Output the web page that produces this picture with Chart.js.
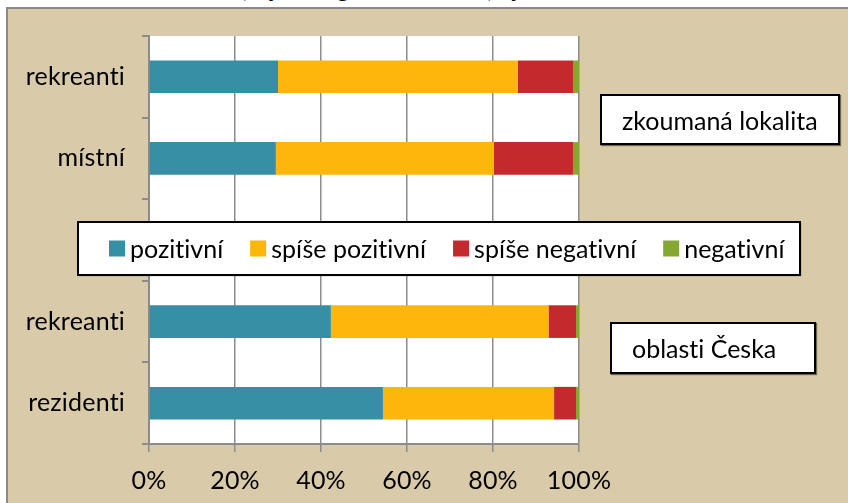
<!DOCTYPE html>
<html>
<head>
<meta charset="utf-8">
<script src="https://cdn.jsdelivr.net/npm/chart.js@4.4.1/dist/chart.umd.min.js"></script>
<style>
  html, body { margin:0; padding:0; background:#fff; width:848px; height:503px; overflow:hidden; }
  #title { position:absolute; left:238px; top:-24px; font-family:"Liberation Serif", serif; font-size:24px; line-height:24px; color:#000; white-space:nowrap; }
  #frame { position:absolute; left:6px; top:7px; width:900px; height:600px; background:#D9CAA9; border-left:2px solid #8a8a8a; border-top:2px solid #8a8a8a; }
  #wrap { position:absolute; left:0; top:0; width:848px; height:503px; }
  .note { position:absolute; background:#fff; border:2px solid #000; box-shadow:1px 1px 1px rgba(0,0,0,0.5); box-sizing:border-box;
          font-family:Lato, "Open Sans", sans-serif; font-size:25px; color:#000; display:flex; align-items:center; padding-left:20px; white-space:nowrap;
          font-variant-ligatures:none; font-feature-settings:"liga" 0, "dlig" 0; }
</style>
</head>
<body>
<div id="title">(objekt, regionální úroveň) aj.</div>
<div id="frame"></div>
<div id="wrap"><canvas id="c" width="848" height="503"></canvas></div>
<div class="note" style="left:600px; top:94px; width:240px; height:51px;">zkoumaná lokalita</div>
<div class="note" style="left:610px; top:322px; width:206px; height:52px;">oblasti Česka</div>
<script>
// ---- data ----
const categories = ['rekreanti', 'místní', '', 'rekreanti', 'rezidenti'];
const seriesNames = ['pozitivní', 'spíše pozitivní', 'spíše negativní', 'negativní'];
const pozitivni      = [30.0, 29.5, null, 42.3, 54.4];
const spisePozitivni = [55.8, 50.7, null, 50.6, 39.8];
const spiseNegativni = [12.8, 18.4, null,  6.4,  5.1];
const negativni      = [ 1.4,  1.4, null,  0.7,  0.7];
const xTickValues = [0, 20, 40, 60, 80, 100];
const xTickLabels = ['0%', '20%', '40%', '60%', '80%', '100%'];

const seriesColors = ['#378FA6', '#FDB60B', '#C3292D', '#84A832'];
const FONT = 'Lato, "Open Sans", sans-serif';

const plotBg = {
  id: 'plotBg',
  beforeDraw(chart) {
    const a = chart.chartArea, ctx = chart.ctx;
    ctx.letterSpacing = '0.2px';
    ctx.save(); ctx.fillStyle = '#fff';
    ctx.fillRect(a.left, a.top, a.right - a.left, a.bottom - a.top);
    ctx.restore();
  }
};

const boxLegend = {
  id: 'boxLegend',
  afterDraw(chart, args, opts) {
    const ctx = chart.ctx;
    const b = opts.box;
    ctx.save();
    ctx.shadowColor = 'rgba(0,0,0,0.5)'; ctx.shadowOffsetX = 1; ctx.shadowOffsetY = 1; ctx.shadowBlur = 1;
    ctx.fillStyle = '#fff';
    ctx.fillRect(b.x, b.y, b.w, b.h);
    ctx.shadowColor = 'transparent';
    ctx.strokeStyle = '#000'; ctx.lineWidth = 2;
    ctx.strokeRect(b.x, b.y, b.w, b.h);
    ctx.font = opts.fontSize + 'px ' + FONT;
    ctx.letterSpacing = '0.01px';
    ctx.textBaseline = 'middle'; ctx.textAlign = 'left';
    let x = opts.startX;
    const cy = b.y + b.h / 2;
    chart.data.datasets.forEach(ds => {
      ctx.fillStyle = ds.backgroundColor;
      ctx.fillRect(x, cy - 8, 16, 16);
      ctx.fillStyle = '#000';
      ctx.fillText(ds.label, x + 21, cy + 1);
      x += 21 + ctx.measureText(ds.label).width + opts.gap;
    });
    ctx.restore();
  }
};

function build() {
  const dataSeries = [pozitivni, spisePozitivni, spiseNegativni, negativni];
  new Chart(document.getElementById('c'), {
    type: 'bar',
    data: {
      labels: categories,
      datasets: seriesNames.map((n, i) => ({
        label: n, data: dataSeries[i], backgroundColor: seriesColors[i],
        borderWidth: 0, barPercentage: 0.4, categoryPercentage: 1.0
      }))
    },
    options: {
      indexAxis: 'y',
      responsive: false,
      animation: false,
      layout: { padding: { top: 36, right: 269, bottom: 0, left: 0 } },
      plugins: {
        legend: { display: false },
        tooltip: { enabled: false },
        boxLegend: { box: { x: 78, y: 222, w: 722, h: 53 }, startX: 109, gap: 27, fontSize: 25 }
      },
      scales: {
        x: {
          stacked: true, min: 0, max: 100,
          afterBuildTicks: s => { s.ticks = xTickValues.map(v => ({ value: v })); },
          ticks: { callback: (v, i) => xTickLabels[i], color: '#000', font: { family: FONT, size: 25 }, padding: 14, maxRotation: 0, autoSkip: false },
          grid: { color: '#8c8c8c', lineWidth: 1.5, tickLength: 8, drawTicks: true },
          border: { display: true, color: '#8c8c8c', width: 2 },
          afterFit: s => { s.height = 59; }
        },
        y: {
          stacked: true,
          ticks: { color: '#000', font: { family: FONT, size: 25 }, padding: 17, autoSkip: false },
          grid: { drawOnChartArea: false, drawTicks: true, tickLength: 7, color: '#8c8c8c', lineWidth: 2, offset: true },
          border: { display: true, color: '#8c8c8c', width: 2 },
          afterFit: s => { s.width = 149; }
        }
      }
    },
    plugins: [plotBg, boxLegend]
  });
}
if (document.fonts && document.fonts.load) {
  Promise.all([document.fonts.load('25px Lato'), document.fonts.load('24px "Liberation Serif"')]).then(build, build);
} else build();
</script>
</body>
</html>
